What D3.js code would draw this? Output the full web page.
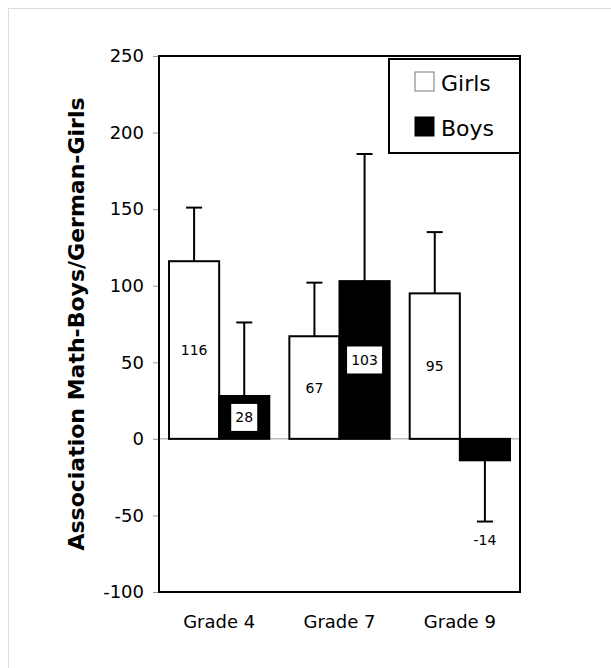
<!DOCTYPE html>
<html>
<head>
<meta charset="utf-8">
<script src="https://cdn.jsdelivr.net/npm/d3@7"></script>
<style>
  body { margin: 0; background: #fff; }
  text { font-family: "DejaVu Sans", Verdana, sans-serif; fill: #000; }
</style>
</head>
<body>
<svg id="chart" width="611" height="668"></svg>
<script>
// Chart values
const grades = ["Grade 4", "Grade 7", "Grade 9"];
const series = ["Girls", "Boys"];
const girls = [116, 67, 95];
const boys = [28, 103, -14];
const girlsErr = [35, 35, 40];
const boysErr = [48, 83, 40];
const yTicks = [-100, -50, 0, 50, 100, 150, 200, 250];

const width = 611, height = 668;
const margin = { top: 56, right: 91, bottom: 76, left: 159 };
const colors = { Girls: "#fff", Boys: "#000" };

const svg = d3.select("#chart");

// light frame around the page
svg.append("rect")
  .attr("x", 8.5).attr("y", 8.5)
  .attr("width", width + 20).attr("height", height + 20)
  .attr("fill", "none").attr("stroke", "#ddd");

const x = d3.scaleBand()
  .domain(grades)
  .range([margin.left, width - margin.right])
  .paddingInner(20 / 120)
  .paddingOuter(10 / 120);

const xs = d3.scaleBand()
  .domain(series)
  .range([0, x.bandwidth()]);

const y = d3.scaleLinear()
  .domain([-100, 250])
  .range([height - margin.bottom, margin.top]);

// y axis ticks + labels (plain hyphen minus, like the original)
const yAxis = svg.append("g")
  .attr("transform", `translate(${margin.left},0)`)
  .call(d3.axisLeft(y).tickValues(yTicks).tickFormat(d => String(d)).tickSize(6).tickPadding(9));
yAxis.select(".domain").remove();
yAxis.selectAll(".tick line").attr("stroke", "#999");
yAxis.selectAll(".tick text")
  .style("font-size", "18px")
  .style("font-family", "'DejaVu Sans', Verdana, sans-serif")
  .attr("fill", "#000");

// zero line
svg.append("line")
  .attr("x1", margin.left).attr("x2", width - margin.right)
  .attr("y1", y(0)).attr("y2", y(0))
  .attr("stroke", "#999").attr("stroke-width", 1);

// rows for bars
const rows = [];
grades.forEach((g, i) => {
  rows.push({ grade: g, key: "Girls", value: girls[i], err: girlsErr[i] });
  rows.push({ grade: g, key: "Boys", value: boys[i], err: boysErr[i] });
});

const bx = d => x(d.grade) + xs(d.key);

// error bars (one-sided, away from zero)
const errEnd = d => d.value >= 0 ? d.value + d.err : d.value - d.err;
const eb = svg.append("g").attr("stroke", "#000").attr("stroke-width", 2);
eb.selectAll("line.stem")
  .data(rows)
  .join("line")
  .attr("class", "stem")
  .attr("x1", d => bx(d) + xs.bandwidth() / 2)
  .attr("x2", d => bx(d) + xs.bandwidth() / 2)
  .attr("y1", d => y(d.value))
  .attr("y2", d => y(errEnd(d)));
eb.selectAll("line.cap")
  .data(rows)
  .join("line")
  .attr("class", "cap")
  .attr("x1", d => bx(d) + xs.bandwidth() / 2 - 8)
  .attr("x2", d => bx(d) + xs.bandwidth() / 2 + 8)
  .attr("y1", d => y(errEnd(d)))
  .attr("y2", d => y(errEnd(d)));

// bars
svg.append("g")
  .selectAll("rect")
  .data(rows)
  .join("rect")
  .attr("x", bx)
  .attr("width", xs.bandwidth())
  .attr("y", d => y(Math.max(0, d.value)))
  .attr("height", d => Math.abs(y(d.value) - y(0)))
  .attr("fill", d => colors[d.key])
  .attr("stroke", "#000")
  .attr("stroke-width", 2);

// value labels
const lab = svg.append("g")
  .selectAll("g")
  .data(rows)
  .join("g")
  .attr("transform", d => {
    const cx = bx(d) + xs.bandwidth() / 2;
    // negative bar: label sits under the error bar
    const cy = d.value >= 0 ? (y(d.value) + y(0)) / 2 : y(errEnd(d)) + 18;
    return `translate(${cx},${cy})`;
  });
lab.filter(d => d.key === "Boys" && d.value >= 0)
  .append("rect")
  .attr("x", d => -(String(d.value).length * 9 + 8) / 2)
  .attr("y", -13.5)
  .attr("width", d => String(d.value).length * 9 + 8)
  .attr("height", 27)
  .attr("fill", "#fff");
lab.append("text")
  .attr("text-anchor", "middle")
  .attr("dy", "0.36em")
  .style("font-size", "14px")
  .text(d => String(d.value));

// plot frame
svg.append("rect")
  .attr("x", margin.left).attr("y", margin.top)
  .attr("width", width - margin.right - margin.left)
  .attr("height", height - margin.bottom - margin.top)
  .attr("fill", "none").attr("stroke", "#000").attr("stroke-width", 2);

// category labels
svg.append("g")
  .selectAll("text")
  .data(grades)
  .join("text")
  .attr("x", d => x(d) + x.bandwidth() / 2)
  .attr("y", 628)
  .attr("text-anchor", "middle")
  .style("font-size", "18px")
  .text(d => d);

// y title
svg.append("text")
  .attr("transform", `translate(84,${(margin.top + height - margin.bottom) / 2}) rotate(-90)`)
  .attr("text-anchor", "middle")
  .style("font-size", "22px")
  .style("font-weight", "bold")
  .text("Association Math-Boys/German-Girls");

// legend
const legend = svg.append("g").attr("transform", "translate(389,59)");
legend.append("rect")
  .attr("width", 131).attr("height", 94)
  .attr("fill", "#fff").attr("stroke", "#000").attr("stroke-width", 2);
const li = legend.selectAll("g.item")
  .data(series)
  .join("g")
  .attr("class", "item")
  .attr("transform", (d, i) => `translate(26,${13 + i * 45})`);
li.append("rect")
  .attr("width", 19).attr("height", 19)
  .attr("fill", d => colors[d])
  .attr("stroke", d => d === "Girls" ? "#777" : "#000")
  .attr("stroke-width", 1);
li.append("text")
  .attr("x", 26).attr("y", 19)
  .style("font-size", "22px")
  .text(d => d);
</script>
</body>
</html>
